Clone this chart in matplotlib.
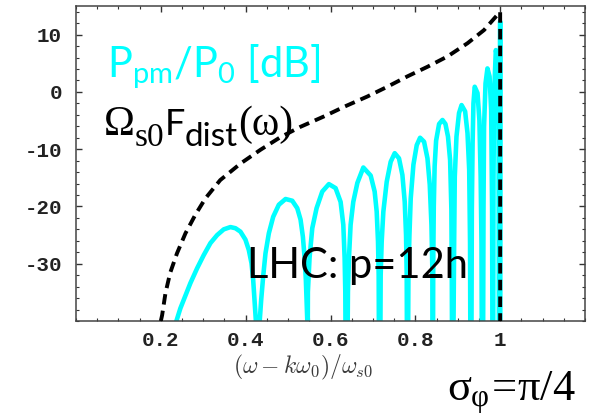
import matplotlib
matplotlib.use("Agg")
import matplotlib.pyplot as plt
from matplotlib.ticker import MultipleLocator, FixedLocator

plt.rcParams['mathtext.fontset'] = 'custom'
plt.rcParams['mathtext.rm'] = 'Liberation Serif'
plt.rcParams['mathtext.it'] = 'Liberation Serif'
plt.rcParams['mathtext.sf'] = 'Lato'

# distribution function  Omega_s0 * F_dist (dB), black dashed
fdist_x = [0.200, 0.203, 0.211, 0.222, 0.238, 0.258, 0.281, 0.305, 0.340, 0.388,
           0.435, 0.482, 0.529, 0.584, 0.632, 0.687, 0.734, 0.781, 0.829, 0.876,
           0.923, 0.962, 1.000, 1.000]
fdist_y = [-40.0, -39.0, -35.1, -31.6, -28.2, -24.7, -21.5, -18.6, -15.4, -12.5,
           -10.1, -7.9, -6.1, -4.3, -2.6, -0.8, 0.9, 2.7, 4.4, 6.2,
           8.5, 10.8, 14.0, -40.0]

# P_pm / P_0 in dB, cyan; -50 marks the zeros, which fall below the frame
ppm_x = [0.2325, 0.2460, 0.2578, 0.2696, 0.2855, 0.3011, 0.3169, 0.3327, 0.3483, 0.3641,
         0.3759, 0.3877, 0.3995, 0.4074, 0.4137, 0.4177, 0.4208, 0.4239, 0.4260,
         0.4310, 0.4333, 0.4366, 0.4413, 0.4467, 0.4546, 0.4649, 0.4782, 0.4940, 0.5098,
         0.5216, 0.5294, 0.5349, 0.5388, 0.5419, 0.5436, 0.5452, 0.5455,
         0.5460, 0.5467, 0.5506, 0.5570, 0.5672, 0.5806, 0.5962, 0.6120, 0.6238, 0.6302,
         0.6333, 0.6349, 0.6360,
         0.6395, 0.6411, 0.6435, 0.6474, 0.6537, 0.6633, 0.6774, 0.6947, 0.7041, 0.7089,
         0.7120, 0.7136, 0.7145,
         0.7170, 0.7183, 0.7207, 0.7246, 0.7325, 0.7419, 0.7514, 0.7615, 0.7695, 0.7750,
         0.7781, 0.7797, 0.7805,
         0.7825, 0.7837, 0.7861, 0.7891, 0.7955, 0.8033, 0.8112, 0.8206, 0.8286, 0.8340,
         0.8380, 0.8404, 0.8412,
         0.8415, 0.8422, 0.8435, 0.8455, 0.8490, 0.8560, 0.8640, 0.8710, 0.8770, 0.8820,
         0.8850, 0.8860, 0.8868,
         0.8890, 0.8915, 0.8930, 0.8970, 0.9030, 0.9090, 0.9174, 0.9230, 0.9270, 0.9290, 0.9300,
         0.9320, 0.9332, 0.9350, 0.9370, 0.9400, 0.9466, 0.9510, 0.9540, 0.9560, 0.9570,
         0.9595, 0.9607, 0.9620, 0.9655, 0.9700, 0.9750, 0.9788, 0.9810, 0.9820,
         0.9835, 0.9843, 0.9858, 0.9898, 0.9938, 0.9962, 0.9972,
         0.9990, 1.0000, 1.0000]
ppm_y = [-41.0, -37.8, -35.6, -33.4, -30.8, -28.5, -26.4, -25.0, -24.0, -23.6,
         -23.8, -24.4, -25.8, -27.6, -29.9, -32.8, -36.3, -39.8, -50,
         -50, -39.8, -36.3, -32.2, -28.2, -24.7, -21.8, -19.7, -18.7, -19.0,
         -20.3, -22.3, -25.3, -28.8, -32.8, -36.3, -39.8, -50,
         -50, -34.9, -29.0, -23.8, -20.3, -17.4, -16.1, -16.8, -19.2, -23.2,
         -29.0, -34.9, -50,
         -50, -34.9, -29.0, -23.2, -19.2, -15.9, -13.2, -14.6, -17.4, -20.9,
         -26.1, -32.0, -50,
         -50, -32.0, -26.1, -20.9, -15.7, -12.2, -10.7, -11.6, -14.5, -19.2,
         -25.0, -32.0, -50,
         -50, -32.0, -25.0, -18.6, -12.7, -9.3, -8.0, -8.7, -11.6, -16.2,
         -23.2, -32.0, -50,
         -50, -30.0, -20.0, -13.0, -8.5, -5.6, -4.9, -5.6, -7.8, -11.9,
         -20.6, -32.2, -50,
         -50, -26.4, -14.8, -7.8, -3.7, -2.3, -3.4, -7.2, -13.6, -26.4, -50,
         -50, -20.6, -9.0, -2.0, 0.9, -0.2, -4.9, -14.8, -26.4, -50,
         -50, -20.6, -6.1, 1.5, 4.1, 2.7, -3.2, -20.6, -50,
         -50, -14.8, -0.2, 7.3, 5.6, -6.1, -50,
         -50, 12.3, -50]

x_ticks = [0.2, 0.4, 0.6, 0.8, 1.0]
x_labels = ["0.2", "0.4", "0.6", "0.8", "1"]
y_ticks = [-30, -20, -10, 0, 10]
y_labels = ["-30", "-20", "-10", "0", "10"]

W, H = 595, 419
fig = plt.figure(figsize=(W / 100, H / 100), dpi=100)
ax = fig.add_axes([76 / W, 1 - 321 / H, (585 - 76) / W, (321 - 6) / H])

ax.plot(ppm_x, ppm_y, color='#00FFFF', lw=3.3, solid_joinstyle='round',
        solid_capstyle='round', zorder=2)
ax.plot(fdist_x, fdist_y, color='black', lw=2.8, dashes=(2.7, 1.6), zorder=3)

ax.set_xlim(0, 1.2)
ax.set_ylim(-40, 15)
ax.xaxis.set_major_locator(FixedLocator(x_ticks))
ax.set_xticklabels(x_labels)
ax.xaxis.set_minor_locator(MultipleLocator(0.05))
ax.yaxis.set_major_locator(FixedLocator(y_ticks))
ax.set_yticklabels(y_labels)
ax.yaxis.set_minor_locator(MultipleLocator(2))

ax.tick_params(which='both', direction='in', top=True, right=True, color='#333333')
ax.tick_params(which='major', length=4.5, width=1.0)
ax.tick_params(which='minor', length=2.2, width=0.8)
ax.tick_params(axis='x', pad=7)
ax.tick_params(axis='y', pad=10)
for lab in ax.get_xticklabels() + ax.get_yticklabels():
    lab.set_family('Liberation Mono')
    lab.set_weight('bold')
    lab.set_fontsize(15)
    lab.set_color('#222222')
for s in ax.spines.values():
    s.set_color('#444444')
    s.set_linewidth(1.1)

def px(x, y):
    return x / W, 1 - y / H

fig.text(*px(303, 367), r'$(\omega - k\omega_0)/\omega_{s0}$', math_fontfamily='cm',
         fontsize=17, color='#3a3a3a', ha='center', va='center')

fig.text(*px(107, 77), r'$\mathsf{P_{pm}/P_{0}\ [dB]}$', fontsize=30,
         color='#00FFFF', ha='left', va='baseline')

# Omega_s0 F_dist(omega), pieced together as on the original slide
renderer = fig.canvas.get_renderer()
pieces = [('Ω', 'Liberation Serif', 30, 0),
          ('s0', 'Liberation Serif', 24, 11),
          ('F', 'Lato', 26, 0),
          ('dist', 'Lato', 24, 11),
          ('(ω)', 'Liberation Serif', 30, 0)]
xpos = 104
for s, fam, size, drop in pieces:
    t = fig.text(*px(xpos, 135 + drop), s, family=fam, fontsize=size, va='baseline')
    xpos += t.get_window_extent(renderer).width

fig.text(*px(247, 278), 'LHC: p=12h', family='Lato', fontsize=30,
         color='black', ha='left', va='baseline')
fig.text(*px(447, 401), r'$\sigma_{\varphi}\!=\!\pi/4$', fontsize=32,
         color='black', ha='left', va='baseline')

fig.savefig('out.png', dpi=100)
